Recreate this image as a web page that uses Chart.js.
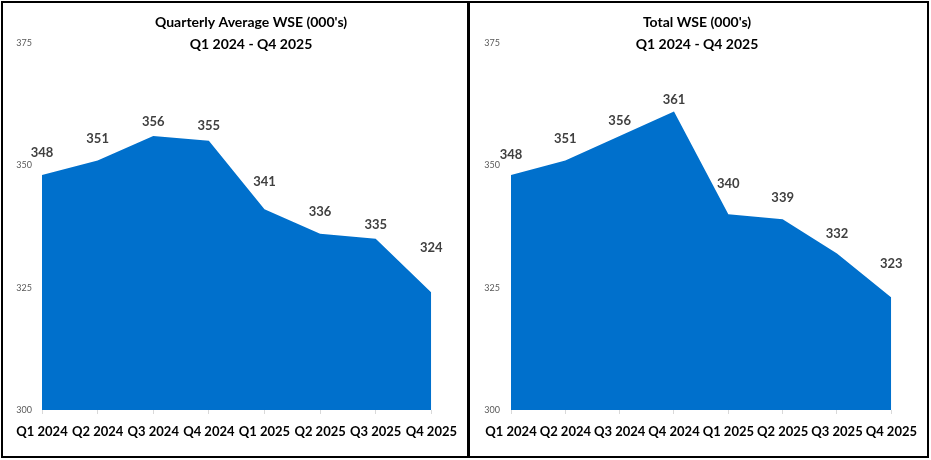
<!DOCTYPE html>
<html>
<head>
<meta charset="utf-8">
<title>WSE Charts</title>
<script src="https://cdn.jsdelivr.net/npm/chart.js@4.4.0/dist/chart.umd.min.js"></script>
<style>
  body { margin: 0; background: #fff; }
  #wrap { position: relative; width: 931px; height: 460px; }
  .panel { position: absolute; top: 1px; height: 453px; border: 2px solid #000; }
  #panelLeft { left: 1px; width: 464px; }
  #panelRight { left: 468px; width: 457px; }
  canvas { display: block; }
</style>
</head>
<body>
<div id="wrap">
  <div class="panel" id="panelLeft"><canvas id="avgChart" width="464" height="453"></canvas></div>
  <div class="panel" id="panelRight"><canvas id="totalChart" width="457" height="453"></canvas></div>
</div>
<script>
/* ---------------------------------------------------------------
 *  DATA
 * ------------------------------------------------------------- */
const quarters = ["Q1 2024", "Q2 2024", "Q3 2024", "Q4 2024", "Q1 2025", "Q2 2025", "Q3 2025", "Q4 2025"];
const avgWse = [348, 351, 356, 355, 341, 336, 335, 324];
const totalWse = [348, 351, 356, 361, 340, 339, 332, 323];
const yTicks = [300, 325, 350, 375];

const FONT = "Lato, 'Open Sans', sans-serif";
const AREA_BLUE = "#0070CC";

/* ---------------------------------------------------------------
 *  PLUGINS (title lines + value labels)
 * ------------------------------------------------------------- */
const panelTitle = {
  id: "panelTitle",
  afterDraw(chart, args, opts) {
    const ctx = chart.ctx;
    ctx.save();
    ctx.font = "bold " + opts.size + "px " + FONT;
    ctx.fillStyle = "#000";
    ctx.textAlign = "center";
    ctx.textBaseline = "middle";
    opts.lines.forEach((line, i) => ctx.fillText(line, opts.x, opts.y + i * opts.lineGap));
    ctx.restore();
  },
};

const valueLabels = {
  id: "valueLabels",
  afterDatasetsDraw(chart, args, opts) {
    const ctx = chart.ctx;
    const meta = chart.getDatasetMeta(0);
    const values = chart.data.datasets[0].data;
    ctx.save();
    ctx.font = "bold 13px " + FONT;
    ctx.fillStyle = "#404040";
    ctx.textAlign = "center";
    ctx.textBaseline = "middle";
    meta.data.forEach((pt, i) => {
      ctx.fillText(values[i], pt.x, pt.y - opts.offsets[i]);
    });
    ctx.restore();
  },
};

/* ---------------------------------------------------------------
 *  CONFIG
 * ------------------------------------------------------------- */
function getAreaConfig(values, s) {
  return {
    type: "line",
    data: {
      labels: quarters,
      datasets: [
        {
          data: values,
          fill: "start",
          backgroundColor: AREA_BLUE,
          borderColor: AREA_BLUE,
          borderWidth: 0,
          pointRadius: 0,
          tension: 0,
        },
      ],
    },
    options: {
      responsive: false,
      animation: false,
      layout: {
        autoPadding: false,
        padding: { left: s.padLeft, right: s.padRight, top: 40, bottom: 0 },
      },
      scales: {
        x: {
          offset: false,
          border: { display: false },
          grid: { display: true, drawOnChartArea: false, tickLength: 4, color: "#d9d9d9" },
          ticks: {
            autoSkip: false,
            maxRotation: 0,
            padding: 10,
            color: "#000",
            font: { family: FONT, size: 13, weight: "bold" },
          },
          afterFit: (scale) => { scale.height = 46; },
        },
        y: {
          min: 300,
          max: 375,
          afterBuildTicks: (scale) => { scale.ticks = yTicks.map((v) => ({ value: v })); },
          border: { display: false },
          grid: { display: false, drawTicks: false },
          ticks: {
            padding: s.tickPad,
            color: "#595959",
            font: { family: FONT, size: 9 },
          },
          afterFit: (scale) => { scale.width = 30; },
        },
      },
      plugins: {
        legend: { display: false },
        tooltip: { enabled: false },
        panelTitle: { lines: s.title, x: s.titleX, y: 19, lineGap: 22, size: 14 },
        valueLabels: { offsets: s.offsets },
      },
    },
    plugins: [panelTitle, valueLabels],
  };
}

new Chart(document.getElementById("avgChart"), getAreaConfig(avgWse, {
  title: ["Quarterly Average WSE (000's)", "Q1 2024 - Q4 2025"],
  titleX: 248,
  padLeft: 9,
  padRight: 35,
  tickPad: 10,
  offsets: [22, 22, 14, 15, 28, 22, 14, 45],
}));

new Chart(document.getElementById("totalChart"), getAreaConfig(totalWse, {
  title: ["Total WSE (000's)", "Q1 2024 - Q4 2025"],
  titleX: 227,
  padLeft: 11,
  padRight: 32,
  tickPad: 11,
  offsets: [20, 22, 15, 12, 30, 21, 20, 34],
}));
</script>
</body>
</html>
